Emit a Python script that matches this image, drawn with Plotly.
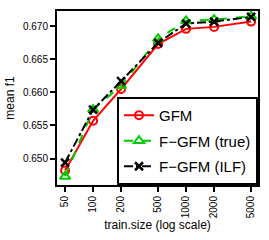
import plotly.graph_objects as go

train_size = [50, 100, 200, 500, 1000, 2000, 5000]
tick_labels = ["50", "100", "200", "500", "1000", "2000", "5000"]
gfm = [0.6482, 0.6557, 0.6605, 0.6673, 0.6696, 0.6699, 0.6707]
fgfm_true = [0.6473, 0.6574, 0.6610, 0.6681, 0.6708, 0.6710, 0.6715]
fgfm_ilf = [0.6494, 0.6574, 0.6617, 0.6675, 0.6704, 0.6707, 0.6714]

fig = go.Figure()
fig.add_trace(go.Scatter(
    x=train_size, y=gfm, name="GFM", mode="lines+markers", legendgroup="a",
    line=dict(color="#FF0000", width=2),
    marker=dict(symbol="circle-open", size=8, color="#FF0000", line=dict(width=2, color="#FF0000")),
))
fig.add_trace(go.Scatter(
    x=train_size, y=fgfm_true, name="F\u2212GFM (true)", mode="lines+markers", legendgroup="b",
    line=dict(color="#00CD00", width=2, dash="dash"),
    marker=dict(symbol="triangle-up-open", size=9, color="#00CD00", line=dict(width=2, color="#00CD00")),
))
fig.add_trace(go.Scatter(
    x=train_size, y=fgfm_ilf, name="F\u2212GFM (ILF)", mode="lines+markers", legendgroup="c",
    line=dict(color="#000000", width=2, dash="dashdot"),
    marker=dict(symbol="x-thin-open", size=8, color="#000000", line=dict(width=2.5, color="#000000")),
))

fig.update_layout(
    width=269, height=240,
    margin=dict(l=55, r=9, t=9, b=55),
    paper_bgcolor="white", plot_bgcolor="white",
    font=dict(family="Liberation Sans, Arial, sans-serif", color="#000000"),
    showlegend=True,
    legend=dict(
        x=1, y=0, xanchor="right", yanchor="bottom",
        bordercolor="#000000", borderwidth=2, bgcolor="white",
        font=dict(size=15), itemwidth=30, tracegroupgap=3,
    ),
)
fig.update_xaxes(
    type="log", range=[1.612, 3.773],
    tickvals=train_size, ticktext=tick_labels, tickangle=-90,
    tickfont=dict(size=10), ticks="outside", ticklen=5, tickwidth=1.5, tickcolor="#000000",
    showline=True, linewidth=2, linecolor="#000000", mirror=True,
    showgrid=False, zeroline=False,
    title=dict(text="train.size (log scale)", font=dict(size=12), standoff=2),
)
fig.update_yaxes(
    range=[0.6460, 0.6723],
    tickvals=[0.650, 0.655, 0.660, 0.665, 0.670], tickformat=".3f",
    tickfont=dict(size=10), ticks="outside", ticklen=5, tickwidth=1.5, tickcolor="#000000",
    showline=True, linewidth=2, linecolor="#000000", mirror=True,
    showgrid=False, zeroline=False,
    title=dict(text="mean f1", font=dict(size=12), standoff=6),
)

fig.write_html("out.html", config={"displayModeBar": False},
               post_script="document.body.style.margin='0';document.body.style.padding='0';")
